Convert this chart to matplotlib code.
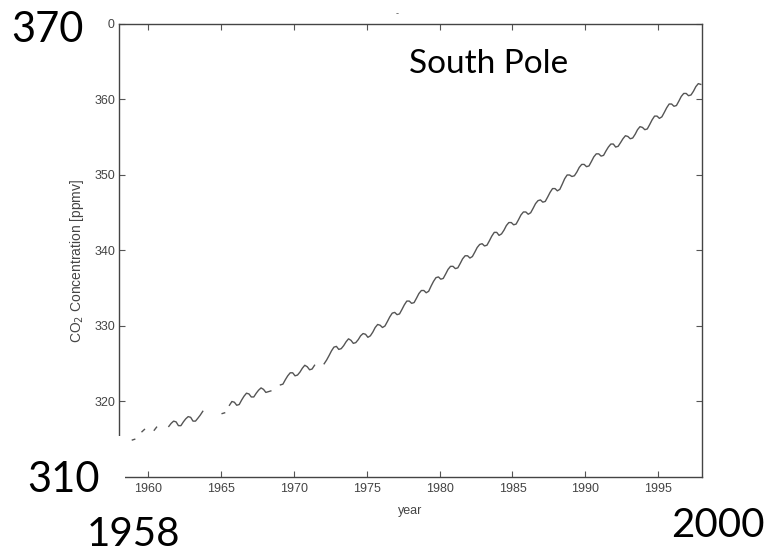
import numpy as np
import matplotlib.pyplot as plt
from matplotlib.patches import Rectangle

nan = np.nan

# six samples per year (bi-monthly), NaN where the record has gaps
phase = [0.08, 0.25, 0.42, 0.58, 0.75, 0.92]
first_year = 1958

co2_1958_1967 = [
    nan, nan, nan, nan, nan, 314.9,
    315.0, nan, nan, 316.0, 316.3, nan,
    nan, nan, 316.2, 316.6, nan, nan,
    nan, nan, 316.7, 317.1, 317.4, 317.3,
    316.8, 316.8, 317.3, 317.7, 318.0, 317.9,
    317.4, 317.4, 317.8, 318.2, 318.7, nan,
    nan, nan, nan, nan, nan, nan,
    318.4, 318.5, nan, 319.5, 320.0, 319.9,
    319.5, 319.6, 320.2, 320.7, 321.1, 321.0,
    320.6, 320.6, 321.1, 321.5, 321.8, 321.6,
]
co2_1968_1977 = [
    321.2, 321.3, 321.4, nan, nan, nan,
    322.2, 322.3, 322.9, 323.4, 323.8, 323.8,
    323.4, 323.5, 323.9, 324.4, 324.8, 324.6,
    324.2, 324.3, 324.8, nan, nan, nan,
    325.0, 325.5, 326.1, 326.7, 327.2, 327.3,
    326.9, 327.0, 327.4, 327.9, 328.3, 328.1,
    327.7, 327.8, 328.2, 328.7, 329.0, 328.9,
    328.5, 328.7, 329.2, 329.8, 330.2, 330.1,
    329.8, 330.0, 330.6, 331.2, 331.7, 331.8,
    331.5, 331.6, 332.2, 332.8, 333.3, 333.3,
]
co2_1978_1987 = [
    333.0, 333.1, 333.7, 334.3, 334.7, 334.7,
    334.4, 334.6, 335.3, 335.9, 336.4, 336.5,
    336.2, 336.3, 336.9, 337.5, 337.9, 337.9,
    337.6, 337.7, 338.3, 338.9, 339.3, 339.3,
    339.0, 339.2, 339.8, 340.4, 340.8, 340.9,
    340.6, 340.7, 341.3, 341.9, 342.4, 342.4,
    342.0, 342.2, 342.7, 343.3, 343.7, 343.7,
    343.4, 343.5, 344.1, 344.7, 345.1, 345.1,
    344.8, 345.0, 345.6, 346.2, 346.6, 346.7,
    346.4, 346.5, 347.1, 347.7, 348.2, 348.2,
]
co2_1988_1997 = [
    347.9, 348.1, 348.8, 349.5, 350.0, 350.0,
    349.8, 349.9, 350.4, 351.0, 351.4, 351.4,
    351.1, 351.2, 351.8, 352.4, 352.8, 352.8,
    352.5, 352.6, 353.2, 353.7, 354.1, 354.1,
    353.7, 353.8, 354.3, 354.8, 355.2, 355.1,
    354.8, 354.9, 355.4, 356.0, 356.4, 356.3,
    356.0, 356.1, 356.7, 357.3, 357.8, 357.8,
    357.5, 357.7, 358.3, 358.9, 359.4, 359.4,
    359.1, 359.2, 359.8, 360.4, 360.8, 360.8,
    360.5, 360.6, 361.1, 361.7, 362.1, 362.0,
]

x_ticks = [1960, 1965, 1970, 1975, 1980, 1985, 1990, 1995]
y_ticks = [320, 330, 340, 350, 360, 370]

co2 = np.array(co2_1958_1967 + co2_1968_1977 + co2_1978_1987 + co2_1988_1997)
n_years = len(co2) // len(phase)
t = (first_year + np.arange(n_years)[:, None] + np.array(phase)[None, :]).ravel()

fig = plt.figure(figsize=(7.69, 5.54), dpi=100)
ax = fig.add_axes([0.1547, 0.139, 0.7581, 0.8177])

ax.plot(t, co2, color='#555555', lw=1.0)

ax.set_xlim(1958, 1998)
ax.set_ylim(310, 370)
ax.set_xticks(x_ticks)
ax.set_yticks(y_ticks)
ax.tick_params(direction='in', top=True, right=True, length=4, width=0.8,
               color='#555555', labelcolor='#444444', labelsize=9)
ax.tick_params(axis='y', pad=2.5)
ax.tick_params(axis='x', pad=4)
for lab in ax.get_xticklabels() + ax.get_yticklabels():
    lab.set_family('Liberation Sans')
for s in ax.spines.values():
    s.set_color('#444444')
    s.set_linewidth(1.0)

ax.set_xlabel('year', fontsize=9, color='#444444', family='Liberation Sans')
ax.xaxis.set_label_coords(0.5, -0.062)
ax.set_ylabel('CO$_2$ Concentration [ppmv]', fontsize=10, color='#444444',
              family='Liberation Sans')
ax.yaxis.set_label_coords(-0.057, 0.477)

# slide overlay: white boxes hiding the corner labels, then large annotations
W, H = 769, 554
fig.patches.append(Rectangle((0, 0), 125 / W, (H - 436) / H, transform=fig.transFigure,
                             facecolor='white', edgecolor='none', zorder=5))
fig.patches.append(Rectangle((0, 1 - 42 / H), 108 / W, 42 / H, transform=fig.transFigure,
                             facecolor='white', edgecolor='none', zorder=5))

big = dict(family='Lato', color='black', va='baseline', ha='left', zorder=6)
fig.text(11 / W, 1 - 42 / H, '370', fontsize=30, **big)
fig.text(27 / W, 1 - 492 / H, '310', fontsize=30, **big)
fig.text(87 / W, 1 - 546 / H, '1958', fontsize=29, **big)
fig.text(671 / W, 1 - 537 / H, '2000', fontsize=29, **big)
fig.text(409 / W, 1 - 73 / H, 'South Pole', fontsize=24, **big)
fig.text(396 / W, 1 - 16 / H, '-', fontsize=6, color='#555555', zorder=6)

fig.savefig('out.png', dpi=100)
